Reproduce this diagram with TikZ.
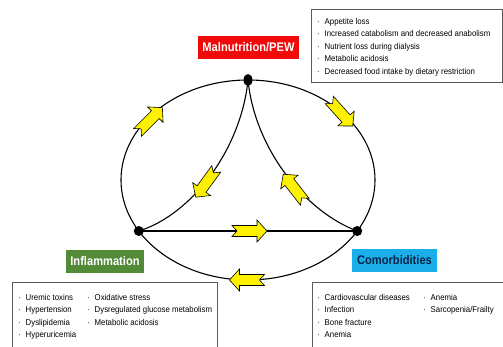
\documentclass[tikz,border=0pt]{standalone}
\usepackage{fontspec}
\setmainfont{Liberation Sans}
\newfontfamily\listfont[FakeStretch=0.92]{Liberation Sans}
\newfontfamily\labelfont[FakeStretch=0.89]{Liberation Sans}
\usetikzlibrary{shapes.geometric}
\definecolor{pewred}{HTML}{F00A0A}
\definecolor{inflgreen}{HTML}{538A38}
\definecolor{comblue}{HTML}{1AAEEA}
\definecolor{comnavy}{HTML}{0B2547}
\definecolor{boxgray}{HTML}{5A5A5A}
\newcommand\blt{\makebox[7.5pt][l]{·}}
\tikzset{
  link/.style={line width=1.1pt, draw=black},
  dot/.style={fill=black, circle, inner sep=0pt, minimum size=10pt},
  tag/.style={font=\labelfont\bfseries\fontsize{12.5}{14}\selectfont, minimum height=23pt, inner sep=0pt},
  listbox/.style={draw=boxgray, line width=1.2pt, fill=white, anchor=north west, inner sep=0pt},
  listtext/.style={font=\listfont\fontsize{8.5}{12.6}\selectfont, align=left, anchor=north west, inner sep=0pt, text=black},
  yarrowstyle/.style={fill=yellow, draw=black, line width=0.6pt, line join=miter},
  yarrow/.pic={\draw[yarrowstyle] (-17.5,5.5) -- (7.5,5.5) -- (7.5,11) -- (17.5,0) -- (7.5,-11) -- (7.5,-5.5) -- (-17.5,-5.5) -- (-12.5,0) -- cycle;}
}
\begin{document}
\begin{tikzpicture}[x=1pt,y=1pt]
\useasboundingbox (0,0) rectangle (503,347);
\clip (0,0) rectangle (503,347);
% dots
\node[fill=black, ellipse, inner sep=0pt, minimum width=9pt, minimum height=12pt] (mal) at (248,267) {};
\node[dot] (inf) at (138.8,116) {};
\node[dot] (com) at (357.2,116) {};
% outer ellipse
\draw[link] (248,167) ellipse [x radius=127pt, y radius=100pt];
% inner connectors
\draw[link] (mal.center) .. controls (241,197) and (191,132) .. (inf.center);
\draw[link] (mal.center) .. controls (255,197) and (306,135) .. (com.center);
\draw[link] (inf.center) -- (com.center);
% yellow arrows
\pic[rotate=45] at (150,227) {yarrow};
\pic[rotate=-48] at (341,234) {yarrow};
\pic[rotate=-126] at (206,164) {yarrow};
\pic[rotate=128] at (294,159) {yarrow};
\pic at (249.5,116) {yarrow};
\pic[rotate=180] at (247,67) {yarrow};
% labels
\node[tag, fill=pewred, text=white, minimum width=101pt] (pew) at (248.5,299.5) {Malnutrition/PEW};
\node[tag, fill=inflgreen, text=white, minimum width=78pt] (inftag) at (105,85.5) {Inflammation};
\node[tag, fill=comblue, text=comnavy, minimum width=85pt] (comtag) at (394.5,86.5) {Comorbidities};
% list boxes
\node[listbox, minimum width=191pt, minimum height=73pt] (malbox) at (311,338) {};
\node[listbox, minimum width=205pt, minimum height=75pt] (infbox) at (12,65) {};
\node[listbox, minimum width=200pt, minimum height=75pt] (combox) at (312,65) {};
% list texts
\node[listtext] (maltext) at (317,329.2) {\blt Appetite loss\\ \blt Increased catabolism and decreased anabolism\\ \blt Nutrient loss during dialysis\\ \blt Metabolic acidosis\\ \blt Decreased food intake by dietary restriction};
\node[listtext] (inftexta) at (18,53.2) {\blt Uremic toxins\\ \blt Hypertension\\ \blt Dyslipidemia\\ \blt Hyperuricemia};
\node[listtext] (inftextb) at (87,53.2) {\blt Oxidative stress\\ \blt Dysregulated glucose metabolism\\ \blt Metabolic acidosis};
\node[listtext] (comtexta) at (317,53.2) {\blt Cardiovascular diseases\\ \blt Infection\\ \blt Bone fracture\\ \blt Anemia};
\node[listtext] (comtextb) at (423,53.2) {\blt Anemia\\ \blt Sarcopenia/Frailty};
\end{tikzpicture}
\end{document}
